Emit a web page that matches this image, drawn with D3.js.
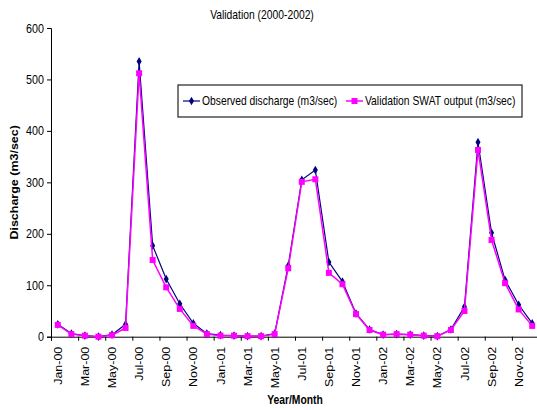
<!DOCTYPE html>
<html>
<head>
<meta charset="utf-8">
<script src="https://cdn.jsdelivr.net/npm/d3@7"></script>
<style>
  html, body { margin: 0; padding: 0; background: #fff; }
  svg { display: block; font-family: "Liberation Sans", Arial, sans-serif; }
</style>
</head>
<body>
<svg id="chart" width="537" height="410"></svg>
<script>
// Monthly discharge, validation period 2000-2002
const months = [
  "Jan-00","Feb-00","Mar-00","Apr-00","May-00","Jun-00","Jul-00","Aug-00","Sep-00","Oct-00","Nov-00","Dec-00",
  "Jan-01","Feb-01","Mar-01","Apr-01","May-01","Jun-01","Jul-01","Aug-01","Sep-01","Oct-01","Nov-01","Dec-01",
  "Jan-02","Feb-02","Mar-02","Apr-02","May-02","Jun-02","Jul-02","Aug-02","Sep-02","Oct-02","Nov-02","Dec-02"
];
const observed = [
  24, 6, 2, 0, 4, 24, 535, 177, 112, 64, 26, 6,
  3, 2, 1, 1, 6, 138, 305, 324, 145, 107, 45, 14,
  4, 5, 4, 2, 1, 14, 58, 378, 202, 110, 62, 26
];
const simulated = [
  23, 5, 2, 0, 3, 17, 512, 149, 96, 54, 21, 5,
  2, 2, 1, 1, 5, 133, 301, 306, 124, 102, 44, 13,
  4, 5, 4, 2, 1, 13, 50, 363, 188, 104, 53, 21
];
const yTicks = [0, 100, 200, 300, 400, 500, 600];
const labelMonths = months.filter((m, i) => i % 2 === 0);

const seriesNames = ["Observed discharge (m3/sec)", "Validation SWAT output (m3/sec)"];
const titleText = "Validation (2000-2002)";
const xTitle = "Year/Month";
const yTitle = "Discharge (m3/sec)";

const OBS_COLOR = "#000080";
const SIM_COLOR = "#ff00ff";
const SQ = 0.86; // horizontal text compression

const svg = d3.select("#chart");
const plotLeft = 51, plotRight = 539, plotTop = 28, plotBottom = 336.7;

const x = d3.scaleBand().domain(months).range([plotLeft, plotRight]).padding(0);
const xIdx = d3.scaleLinear().domain([0, months.length]).range([plotLeft, plotRight]);
const y = d3.scaleLinear().domain([0, 600]).range([plotBottom, plotTop]);
const cx = m => x(m) + x.bandwidth() / 2;

// Title
svg.append("text")
  .attr("transform", `translate(262,18.5) scale(${SQ},1)`)
  .attr("text-anchor", "middle")
  .style("font-size", "12px")
  .text(titleText);

// Y axis
const yAxis = svg.append("g")
  .attr("transform", `translate(${plotLeft},0)`)
  .call(d3.axisLeft(y).tickValues(yTicks).tickSize(4).tickPadding(3).tickFormat(d3.format("d")));
yAxis.select(".domain").attr("stroke", "#000");
yAxis.selectAll(".tick line").attr("stroke", "#000");
yAxis.selectAll(".tick text")
  .attr("x", null)
  .attr("transform", `translate(-7,0) scale(${SQ},1)`)
  .attr("fill", "#000")
  .style("font-size", "12.5px")
  .style("font-family", "'Liberation Sans', Arial, sans-serif");

// X axis: tick marks every two months on category boundaries
const xTicks = svg.append("g")
  .attr("transform", `translate(0,${plotBottom})`)
  .call(d3.axisBottom(xIdx).tickValues(d3.range(0, months.length + 1, 2)).tickSize(4).tickFormat(""));
xTicks.select(".domain").attr("stroke", "#000");
xTicks.selectAll(".tick line").attr("stroke", "#000");

// X axis labels (every other month), rotated
const xLab = svg.append("g")
  .attr("transform", `translate(0,${plotBottom})`)
  .call(d3.axisBottom(x).tickValues(labelMonths).tickSize(0).tickPadding(0));
xLab.select(".domain").remove();
xLab.selectAll(".tick text")
  .attr("y", null)
  .attr("dy", null)
  .attr("transform", `translate(0,10) scale(${SQ},1) rotate(-90)`)
  .attr("text-anchor", "end")
  .attr("dominant-baseline", "central")
  .attr("fill", "#000")
  .style("font-size", "12.5px")
  .style("font-family", "'Liberation Sans', Arial, sans-serif");

// Axis titles
svg.append("text")
  .attr("transform", `translate(${(plotLeft + plotRight) / 2},404) scale(${SQ},1)`)
  .attr("text-anchor", "middle")
  .style("font-size", "12px")
  .style("font-weight", "bold")
  .text(xTitle);

svg.append("text")
  .attr("transform", `translate(14,${(plotTop + plotBottom) / 2}) scale(${SQ},1) rotate(-90)`)
  .attr("text-anchor", "middle")
  .attr("dominant-baseline", "central")
  .style("font-size", "12.5px")
  .style("font-weight", "bold")
  .text(yTitle);

// Series
const line = d3.line().x((d, i) => cx(months[i])).y(d => y(d));
const diamond = d3.symbol().type(d3.symbolDiamond).size(22);

svg.append("path")
  .datum(observed)
  .attr("d", line)
  .attr("fill", "none")
  .attr("stroke", OBS_COLOR)
  .attr("stroke-width", 1.2);
svg.append("g").selectAll("path")
  .data(observed)
  .join("path")
  .attr("d", diamond)
  .attr("transform", (d, i) => `translate(${cx(months[i])},${y(d)})`)
  .attr("fill", OBS_COLOR);

svg.append("path")
  .datum(simulated)
  .attr("d", line)
  .attr("fill", "none")
  .attr("stroke", SIM_COLOR)
  .attr("stroke-width", 1.5);
svg.append("g").selectAll("rect")
  .data(simulated)
  .join("rect")
  .attr("x", (d, i) => cx(months[i]) - 3)
  .attr("y", d => y(d) - 3)
  .attr("width", 6)
  .attr("height", 6)
  .attr("fill", SIM_COLOR);

// Legend
const legend = svg.append("g");
legend.append("rect")
  .attr("x", 178).attr("y", 85).attr("width", 344).attr("height", 32)
  .attr("fill", "#fff").attr("stroke", "#222").attr("stroke-width", 1.2);

const legendItems = [
  { name: seriesNames[0], color: OBS_COLOR, x0: 183, marker: "diamond" },
  { name: seriesNames[1], color: SIM_COLOR, x0: 346, marker: "square" }
];
legendItems.forEach(it => {
  const g = legend.append("g").attr("transform", `translate(${it.x0},101)`);
  g.append("line").attr("x1", 0).attr("x2", 17).attr("y1", 0).attr("y2", 0)
    .attr("stroke", it.color).attr("stroke-width", it.marker === "square" ? 1.5 : 1.2);
  if (it.marker === "diamond") {
    g.append("path").attr("d", diamond).attr("transform", "translate(8.5,0)").attr("fill", it.color);
  } else {
    g.append("rect").attr("x", 5.5).attr("y", -3).attr("width", 6).attr("height", 6).attr("fill", it.color);
  }
  g.append("text")
    .attr("transform", `translate(19,0) scale(${SQ},1)`)
    .attr("dominant-baseline", "central")
    .style("font-size", "12px")
    .text(it.name);
});
</script>
</body>
</html>
